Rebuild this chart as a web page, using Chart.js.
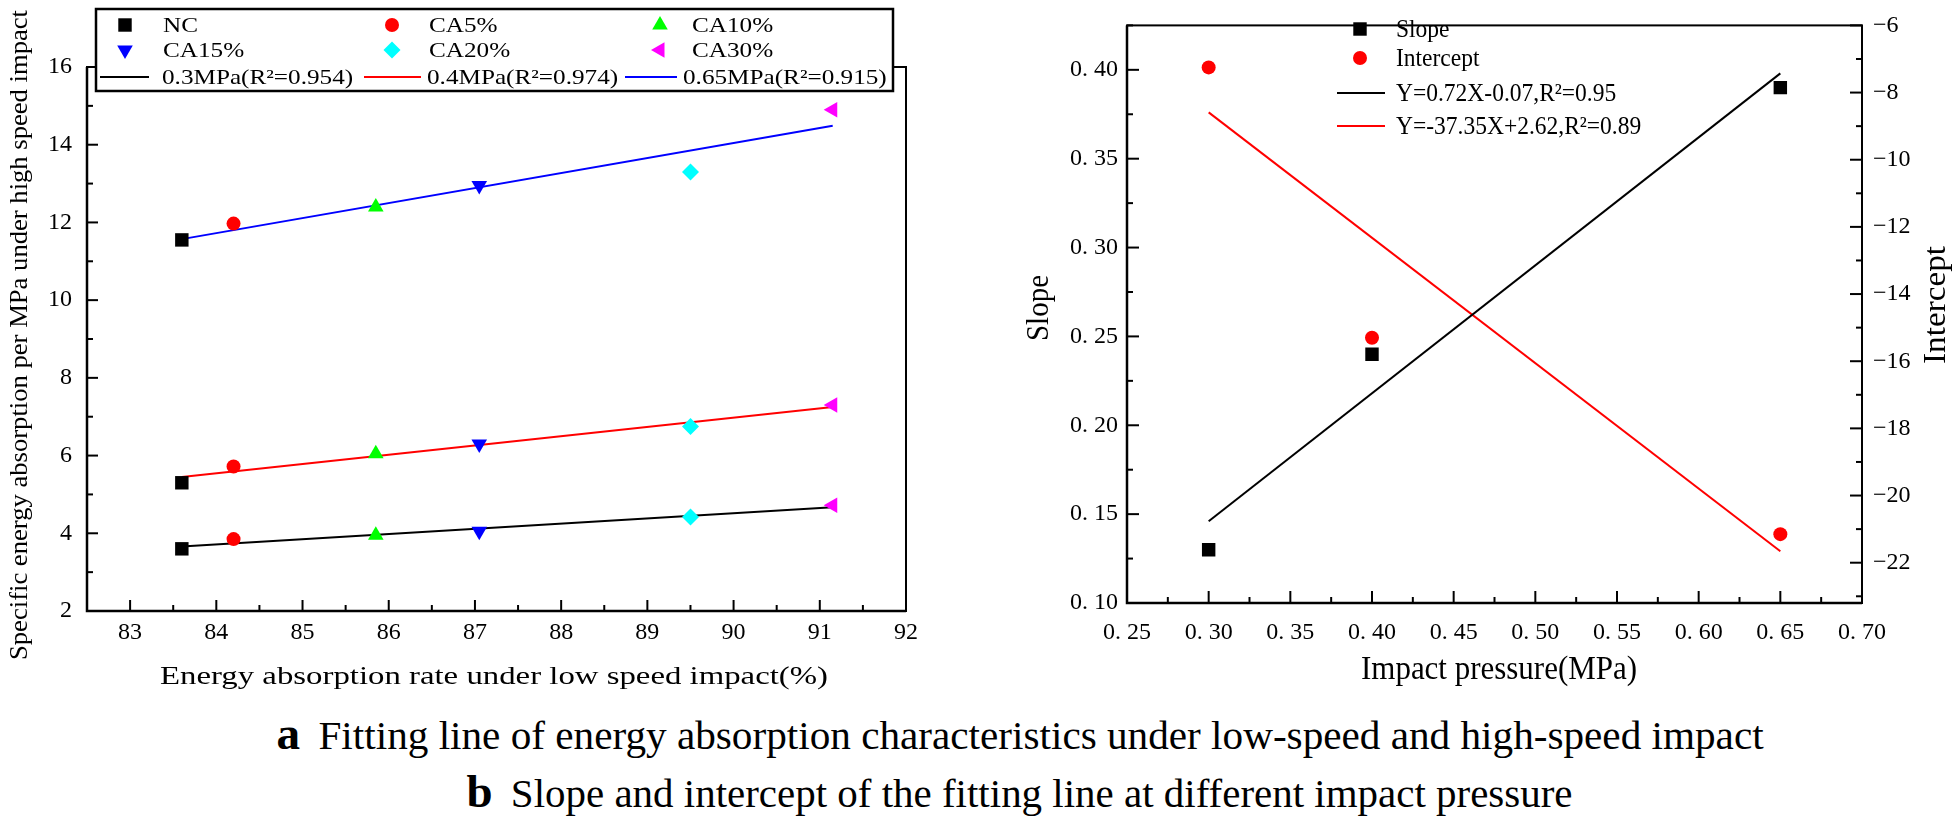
<!DOCTYPE html>
<html>
<head>
<meta charset="utf-8">
<script src="https://cdn.jsdelivr.net/npm/chart.js"></script>
<style>
  html, body { margin: 0; padding: 0; background: #fff; }
  body { width: 1958px; height: 826px; position: relative; overflow: hidden; }
  #left { position: absolute; left: 0; top: 0; }
  #right { position: absolute; left: 960px; top: 0; }
  .cap { position: absolute; left: 41px; width: 1958px; text-align: center; color: #000; white-space: nowrap;
         font-family: "Liberation Serif", serif; font-size: 41px; line-height: 46px; }
  .cap span { display: inline-block; transform-origin: 50% 50%; font-family: "Liberation Serif", serif; }
  .cap b { font-family: "Liberation Serif", serif; font-size: 47px; margin-right: 8px; }
</style>
</head>
<body>
<canvas id="left" width="950" height="700"></canvas>
<canvas id="right" width="998" height="700"></canvas>
<div class="cap" style="top: 710px;"><span id="capA" data-w="1487"><b>a</b> Fitting line of energy absorption characteristics under low-speed and high-speed impact</span></div>
<div class="cap" style="top: 768px;"><span id="capB" data-w="1106"><b>b</b> Slope and intercept of the fitting line at different impact pressure</span></div>
<script>
// panel a: energy absorption, low speed vs high speed
const mixes = ["NC", "CA5%", "CA10%", "CA15%", "CA20%", "CA30%"];
const lowSpeedRate = [83.6, 84.2, 85.85, 87.05, 89.5, 91.15];
const sea03 = [3.6, 3.85, 3.95, 4.05, 4.42, 4.72];
const sea04 = [5.3, 5.72, 6.05, 6.3, 6.75, 7.3];
const sea065 = [11.55, 11.97, 12.4, 12.95, 13.3, 14.9];
const fitNames = ["0.3MPa(R²=0.954)", "0.4MPa(R²=0.974)", "0.65MPa(R²=0.915)"];
const fitEndsX = [83.6, 91.15];
const fit03 = [3.66, 4.67];
const fit04 = [5.45, 7.25];
const fit065 = [11.57, 14.49];
const xTicksA = [83, 84, 85, 86, 87, 88, 89, 90, 91, 92];
const yTicksA = [2, 4, 6, 8, 10, 12, 14, 16];

// panel b: slope / intercept vs impact pressure
const pressure = [0.30, 0.40, 0.65];
const slopeVals = [0.13, 0.24, 0.39];
const interceptVals = [-7.25, -15.3, -21.15];
const fitEndsP = [0.30, 0.65];
const slopeFit = [0.146, 0.398];
const interceptFit = [-8.59, -21.66];
const fitNamesB = ["Y=0.72X-0.07,R²=0.95", "Y=-37.35X+2.62,R²=0.89"];
const xTicksB = [0.25, 0.30, 0.35, 0.40, 0.45, 0.50, 0.55, 0.60, 0.65, 0.70];
const yTicksB = [0.10, 0.15, 0.20, 0.25, 0.30, 0.35, 0.40];
const y2TicksB = [-22, -20, -18, -16, -14, -12, -10, -8, -6];

// styles
const mixColors = ["#000000", "#ff0000", "#00ff00", "#0000ff", "#00ffff", "#ff00ff"];
const mixShapes = ["rect", "circle", "triangle", "triangle", "rectRot", "triangle"];
const mixRot = [0, 0, 0, 180, 0, -90];
const mixRadius = [9.5, 7, 9, 9, 8.5, 9];
const fitColors = ["#000000", "#ff0000", "#0000ff"];
const serif = "Liberation Serif";

// stretch the captions to the width they have in the figure
document.querySelectorAll(".cap span").forEach(sp => {
  sp.style.transform = `scaleX(${sp.dataset.w / sp.offsetWidth})`;
});

// inward ticks + frame, drawn from the chart's own scales
function makeFrame(cfg) {
  return {
    id: "frame",
    afterDatasetsDraw(chart) {
      const { ctx, chartArea: a } = chart;
      ctx.save();
      ctx.strokeStyle = "#000";
      ctx.lineWidth = 2;
      ctx.strokeRect(a.left, a.top, a.right - a.left, a.bottom - a.top);
      ctx.lineWidth = 2.5;
      ctx.beginPath();
      ctx.moveTo(a.left, a.top); ctx.lineTo(a.left, a.bottom); ctx.lineTo(a.right, a.bottom);
      ctx.stroke();
      ctx.lineWidth = 2;
      cfg.axes.forEach(ax => {
        const s = chart.scales[ax.id];
        const vals = s.ticks.map(t => t.value);
        const step = vals[1] - vals[0];
        const mark = (v, len) => {
          const p = s.getPixelForValue(v);
          ctx.beginPath();
          if (ax.side === "bottom") { ctx.moveTo(p, a.bottom); ctx.lineTo(p, a.bottom - len); }
          else if (ax.side === "left") { ctx.moveTo(a.left, p); ctx.lineTo(a.left + len, p); }
          else { ctx.moveTo(a.right, p); ctx.lineTo(a.right - len, p); }
          ctx.stroke();
        };
        vals.forEach(v => mark(v, cfg.major));
        for (let m = vals[0] - step / 2; m <= s.max + 1e-9; m += step) {
          if (m >= s.min - 1e-9) mark(m, cfg.minor);
        }
      });
      ctx.restore();
    }
  };
}

function makeLegend(cfg) {
  return {
    id: "gridLegend",
    afterDraw(chart) {
      const ctx = chart.ctx;
      ctx.save();
      if (cfg.box) {
        ctx.fillStyle = "#fff";
        ctx.fillRect(cfg.box.x, cfg.box.y, cfg.box.w, cfg.box.h);
        ctx.strokeStyle = "#000";
        ctx.lineWidth = 2.5;
        ctx.strokeRect(cfg.box.x, cfg.box.y, cfg.box.w, cfg.box.h);
      }
      cfg.items.forEach(it => {
        const ds = chart.data.datasets[it.ds];
        if (it.x0 !== undefined) {
          ctx.strokeStyle = ds.borderColor;
          ctx.lineWidth = ds.borderWidth;
          ctx.beginPath(); ctx.moveTo(it.x0, it.y); ctx.lineTo(it.x1, it.y); ctx.stroke();
        } else {
          ctx.fillStyle = ds.backgroundColor;
          Chart.helpers.drawPoint(ctx, {
            pointStyle: ds.pointStyle, rotation: ds.pointRotation || 0,
            radius: ds.pointRadius, borderWidth: 0
          }, it.x, it.y);
        }
        ctx.save();
        ctx.fillStyle = "#000";
        ctx.font = cfg.font;
        ctx.textAlign = "left";
        ctx.textBaseline = "middle";
        ctx.translate(it.tx, it.y + 1);
        ctx.scale(cfg.sx || 1, 1);
        ctx.fillText(ds.label, 0, 0);
        ctx.restore();
      });
      ctx.restore();
    }
  };
}

function makeTitles(items) {
  return {
    id: "axisTitles",
    afterDraw(chart) {
      const ctx = chart.ctx;
      items.forEach(t => {
        ctx.save();
        ctx.translate(t.x, t.y);
        ctx.rotate(t.rot * Math.PI / 180);
        ctx.font = t.font;
        ctx.fillStyle = "#000";
        ctx.textAlign = "center";
        ctx.textBaseline = "middle";
        if (t.w) ctx.scale(t.w / ctx.measureText(t.text).width, 1);
        ctx.fillText(t.text, 0, 0);
        ctx.restore();
      });
    }
  };
}

function axis(opts) {
  return {
    type: "linear",
    position: opts.position,
    min: opts.min, max: opts.max,
    afterBuildTicks: s => { s.ticks = opts.ticks.map(v => ({ value: v })); },
    afterFit: s => { if (opts.width) s.width = opts.width; if (opts.height) s.height = opts.height; },
    grid: { display: false, drawTicks: false },
    border: { display: false },
    ticks: {
      autoSkip: false, maxRotation: 0, padding: opts.pad, color: "#000",
      font: { family: serif, size: opts.size },
      callback: opts.fmt
    }
  };
}

// ---------- panel a ----------
const pointSets = mixes.map((m, i) => ({
  label: m,
  data: [sea03[i], sea04[i], sea065[i]].map(v => ({ x: lowSpeedRate[i], y: v })),
  pointStyle: mixShapes[i], pointRotation: mixRot[i], pointRadius: mixRadius[i],
  backgroundColor: mixColors[i], borderColor: mixColors[i], borderWidth: 0, showLine: false
}));
const fitSets = [fit03, fit04, fit065].map((f, i) => ({
  label: fitNames[i],
  data: f.map((v, k) => ({ x: fitEndsX[k], y: v })),
  showLine: true, pointRadius: 0, borderColor: fitColors[i], borderWidth: 2, fill: false
}));

new Chart(document.getElementById("left"), {
  type: "scatter",
  data: { datasets: [...pointSets, ...fitSets] },
  options: {
    responsive: false, animation: false,
    layout: { autoPadding: false, padding: { top: 67, right: 44, left: 0, bottom: 0 } },
    plugins: { legend: { display: false }, tooltip: { enabled: false } },
    scales: {
      x: axis({ position: "bottom", min: 82.5, max: 92, ticks: xTicksA, height: 89, pad: 7, size: 24, fmt: v => String(v) }),
      y: axis({ position: "left", min: 2, max: 16, ticks: yTicksA, width: 87, pad: 15, size: 24, fmt: v => String(v) })
    }
  },
  plugins: [
    makeFrame({ axes: [{ id: "x", side: "bottom" }, { id: "y", side: "left" }], major: 11, minor: 6 }),
    makeTitles([
      { text: "Specific energy absorption per MPa under high speed impact", x: 20, y: 335, rot: -90, font: `26px "${serif}"`, w: 650 },
      { text: "Energy absorption rate under low speed impact(%)", x: 494, y: 677, rot: 0, font: `26px "${serif}"`, w: 668 }
    ]),
    makeLegend({
      box: { x: 96, y: 9, w: 797, h: 82 },
      font: `21px "${serif}"`, sx: 1.2,
      items: [
        { ds: 0, x: 125, y: 25, tx: 163 }, { ds: 1, x: 392, y: 25, tx: 429 }, { ds: 2, x: 660, y: 25, tx: 692 },
        { ds: 3, x: 125, y: 50, tx: 163 }, { ds: 4, x: 392, y: 50, tx: 429 }, { ds: 5, x: 660, y: 50, tx: 692 },
        { ds: 6, x0: 100, x1: 149, y: 77, tx: 162 }, { ds: 7, x0: 364, x1: 421, y: 77, tx: 427 }, { ds: 8, x0: 625, x1: 677, y: 77, tx: 683 }
      ]
    })
  ]
});

// ---------- panel b ----------
new Chart(document.getElementById("right"), {
  type: "scatter",
  data: {
    datasets: [
      { label: "Slope", yAxisID: "y", data: pressure.map((p, i) => ({ x: p, y: slopeVals[i] })),
        pointStyle: "rect", pointRadius: 9.5, backgroundColor: "#000000", borderColor: "#000000", borderWidth: 0 },
      { label: "Intercept", yAxisID: "y2", data: pressure.map((p, i) => ({ x: p, y: interceptVals[i] })),
        pointStyle: "circle", pointRadius: 7, backgroundColor: "#ff0000", borderColor: "#ff0000", borderWidth: 0 },
      { label: fitNamesB[0], yAxisID: "y", data: slopeFit.map((v, k) => ({ x: fitEndsP[k], y: v })),
        showLine: true, pointRadius: 0, borderColor: "#000000", borderWidth: 2 },
      { label: fitNamesB[1], yAxisID: "y2", data: interceptFit.map((v, k) => ({ x: fitEndsP[k], y: v })),
        showLine: true, pointRadius: 0, borderColor: "#ff0000", borderWidth: 2 }
    ]
  },
  options: {
    responsive: false, animation: false,
    layout: { autoPadding: false, padding: { top: 14, right: 0, left: 0, bottom: 0 } },
    plugins: { legend: { display: false }, tooltip: { enabled: false } },
    scales: {
      x: axis({ position: "bottom", min: 0.25, max: 0.70, ticks: xTicksB, height: 97, pad: 15, size: 24,
        fmt: v => v.toFixed(2).replace(".", ". ") }),
      y: axis({ position: "left", min: 0.10, max: 0.425, ticks: yTicksB, width: 167, pad: 9, size: 24,
        fmt: v => v.toFixed(2).replace(".", ". ") }),
      y2: axis({ position: "right", min: -23.2, max: -6, ticks: y2TicksB, width: 96, pad: 11, size: 24,
        fmt: v => "\u2212" + Math.abs(v) })
    }
  },
  plugins: [
    makeFrame({ axes: [{ id: "x", side: "bottom" }, { id: "y", side: "left" }, { id: "y2", side: "right" }], major: 12, minor: 6 }),
    makeTitles([
      { text: "Slope", x: 80, y: 308, rot: -90, font: `31px "${serif}"`, w: 66 },
      { text: "Intercept", x: 977, y: 305, rot: -90, font: `31px "${serif}"`, w: 118 },
      { text: "Impact pressure(MPa)", x: 539, y: 670, rot: 0, font: `33px "${serif}"`, w: 276 }
    ]),
    makeLegend({
      font: `25px "${serif}"`, sx: 0.94,
      items: [
        { ds: 0, x: 400, y: 29, tx: 436 }, { ds: 1, x: 400, y: 58, tx: 436 },
        { ds: 2, x0: 377, x1: 425, y: 93, tx: 436 }, { ds: 3, x0: 377, x1: 425, y: 126, tx: 436 }
      ]
    })
  ]
});
</script>
</body>
</html>
